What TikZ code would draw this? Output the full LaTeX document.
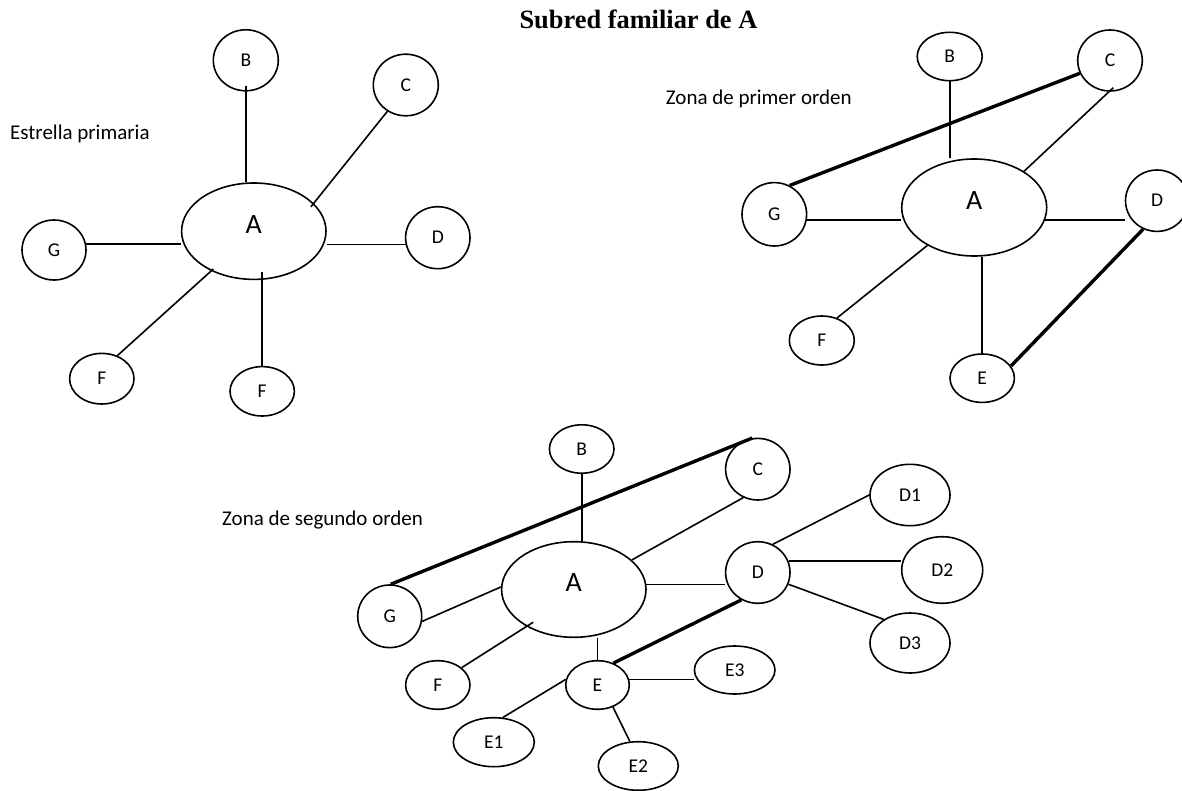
\documentclass[tikz,border=0pt]{standalone}
\usepackage{fontspec}
\setmainfont{Carlito}
\newfontfamily\titlefont{Liberation Serif}
\usetikzlibrary{shapes.geometric}

\tikzset{
  nd/.style={ellipse, draw, line width=1.6pt, inner sep=0pt,
             font=\fontsize{19.5}{22}\selectfont},
  hub/.style={ellipse, draw, line width=1.6pt, inner sep=0pt,
              font=\fontsize{28}{32}\selectfont, text depth=14pt},
  tie/.style={line width=1.6pt},
  strong/.style={line width=3.4pt},
  zone/.style={anchor=base west, inner sep=0pt, font=\fontsize{21}{25}\selectfont},
}

\begin{document}
\begin{tikzpicture}[x=1pt,y=-1pt]
\useasboundingbox[fill=white] (0,0) rectangle (1182,791);

% ---------- title ----------
\node[anchor=base west, inner sep=0pt,
      font=\titlefont\bfseries\fontsize{26.4}{30}\selectfont] (title) at (519.3,29) {Subred familiar de A};

% ---------- star (left) ----------
\node[zone] (lbl1) at (10,140) {Estrella primaria};
\node[hub, minimum width=144.4pt, minimum height=96.4pt] (pA) at (253.8,231.2) {A};
\node[nd, minimum width=65pt, minimum height=61pt] (pB) at (245.8,60.3) {B};
\node[nd, minimum width=65pt, minimum height=61.6pt] (pC) at (405.8,85) {C};
\node[nd, minimum width=64.4pt, minimum height=62pt] (pD) at (437.8,237.7) {D};
\node[nd, minimum width=64pt, minimum height=60pt] (pG) at (54,250) {G};
\node[nd, minimum width=64.4pt, minimum height=50.6pt] (pF1) at (101.8,378.7) {F};
\node[nd, minimum width=64.4pt, minimum height=49.4pt] (pF2) at (262.2,391.3) {F};

\draw[tie, shorten <=-6pt] (pB.south) -- (pB.south |- pA.north);
\draw[tie, shorten >=-4.5pt] (pC.235) -- (pA.25);
\draw[tie] (pG.11) -- (pG.11 -| pA.west);
\draw[tie] (pD.192) -- (pD.192 -| pA.east);
\draw[tie, shorten >=-3pt] (pF1.56) -- (pA.223);
\draw[tie, shorten >=-8pt] (pF2.north) -- (pF2.north |- pA.south);

% ---------- first-order zone (right) ----------
\node[zone] (lbl2) at (665.7,105) {Zona de primer orden};
\node[hub, minimum width=145pt, minimum height=97pt] (qA) at (974.2,207.5) {A};
\node[nd, minimum width=65pt, minimum height=48.4pt] (qB) at (949.7,56.5) {B};
\node[nd, minimum width=64.6pt, minimum height=61pt] (qC) at (1110,60.5) {C};
\node[nd, minimum width=64.6pt, minimum height=63.4pt] (qG) at (774.3,214.3) {G};
\node[nd, minimum width=63pt, minimum height=61.4pt] (qD) at (1157,200.7) {D};
\node[nd, minimum width=65pt, minimum height=49pt] (qF) at (821.8,340.5) {F};
\node[nd, minimum width=64.4pt, minimum height=48.4pt] (qE) at (982.2,378.2) {E};

\draw[tie] (qB.south) -- (qB.south |- qA.north);
\draw[tie, shorten <=-6pt] (qC.268) -- (qA.36);
\draw[strong] (qG.62) -- (qC.203);
\draw[tie] (qG.350) -- (qG.350 -| qA.west);
\draw[tie] (qA.350) -- (qA.350 -| qD.west);
\draw[strong] (qD.244) -- (qE.23);
\draw[tie] (qF.56) -- (qA.219);
\draw[tie] (qE.north) -- (qE.north |- qA.south);

% ---------- second-order zone (bottom) ----------
\node[zone] (lbl3) at (222,525) {Zona de segundo orden};
\node[hub, minimum width=144.4pt, minimum height=95.6pt] (rA) at (573.8,589.5) {A};
\node[nd, minimum width=64.6pt, minimum height=48.4pt] (rB) at (581.7,449) {B};
\node[nd, minimum width=64.4pt, minimum height=61.6pt] (rC) at (757.8,469.2) {C};
\node[nd, minimum width=64pt, minimum height=62.6pt] (rG) at (389.7,616.3) {G};
\node[nd, minimum width=64.4pt, minimum height=48.6pt] (rF) at (437.8,685) {F};
\node[nd, minimum width=63.6pt, minimum height=48.6pt] (rE) at (597.5,685) {E};
\node[nd, minimum width=64.4pt, minimum height=61.6pt] (rD) at (757.8,572.5) {D};
\node[nd, minimum width=80pt, minimum height=61.4pt] (rD1) at (910,495) {D1};
\node[nd, minimum width=81pt, minimum height=66.6pt] (rD2) at (942.2,570) {D2};
\node[nd, minimum width=80pt, minimum height=60pt] (rD3) at (910,643) {D3};
\node[nd, minimum width=80.6pt, minimum height=48pt] (rE3) at (734.7,670) {E3};
\node[nd, minimum width=81pt, minimum height=49pt] (rE1) at (493.8,742.2) {E1};
\node[nd, minimum width=80pt, minimum height=48.6pt] (rE2) at (638.3,766) {E2};

\draw[tie] (rB.south) -- (rB.south |- rA.north);
\draw[strong] (rG.88) -- (rC.100);
\draw[tie] (rC.243) -- (rA.27);
\draw[tie] (rG.351) -- (rA.178);
\draw[tie, shorten >=-8pt] (rF.36) -- (rA.218);
\draw[tie] (rE.north) -- (rE.north |- rA.south);
\draw[strong] (rE.54) -- (rD.239);
\draw[tie] (rA.4) -- (rA.4 -| rD.west);
\draw[tie] (rD.62) -- (rD1.180);
\draw[tie] (rD.20) -- (rD.20 -| rD2.west);
\draw[tie] (rD.339) -- (rD3.138);
\draw[tie] (rE.10) -- (rE.10 -| rE3.west);
\draw[tie] (rE.170) -- (rE1.70);
\draw[tie] (rE.305) -- (rE2.109);
\end{tikzpicture}
\end{document}
